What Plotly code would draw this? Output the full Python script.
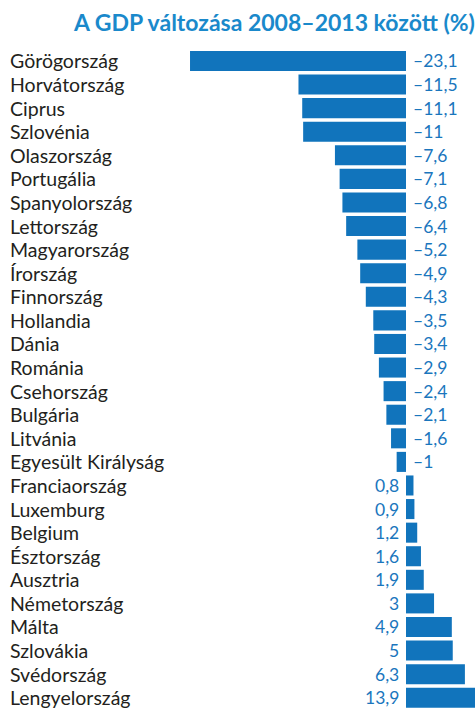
import plotly.graph_objects as go

countries = ["Görögország", "Horvátország", "Ciprus", "Szlovénia", "Olaszország",
             "Portugália", "Spanyolország", "Lettország", "Magyarország", "Írország",
             "Finnország", "Hollandia", "Dánia", "Románia", "Csehország", "Bulgária",
             "Litvánia", "Egyesült Királyság", "Franciaország", "Luxemburg", "Belgium",
             "Észtország", "Ausztria", "Németország", "Málta", "Szlovákia", "Svédország",
             "Lengyelország"]
values = [-23.1, -11.5, -11.1, -11, -7.6, -7.1, -6.8, -6.4, -5.2, -4.9, -4.3, -3.5,
          -3.4, -2.9, -2.4, -2.1, -1.6, -1, 0.8, 0.9, 1.2, 1.6, 1.9, 3, 4.9, 5, 6.3, 13.9]
title_text = "A GDP változása 2008–2013 között (%)"

BAR = "#1174bc"
VAL = "#1a76bd"
TITLE = "#1a89cb"
LAB = "#231f20"

def fmt(v):
    s = f"{v:g}".replace(".", ",")
    return s.replace("-", "–")

fig = go.Figure(go.Bar(
    x=values, y=countries, orientation="h",
    marker=dict(color=BAR, line=dict(width=0)),
    hoverinfo="skip",
))

W, H = 475, 710
zero_px = 406
scale = 9.35  # px per unit
xmin = -zero_px / scale
xmax = (W - zero_px) / scale

annotations = []
for c, v in zip(countries, values):
    annotations.append(dict(
        x=0, y=c, xref="x", yref="y", text=fmt(v), showarrow=False,
        xanchor="left" if v < 0 else "right",
        xshift=5 if v < 0 else -5,
        font=dict(family="Lato", size=17.5, color=VAL),
    ))
    annotations.append(dict(
        x=0, y=c, xref="paper", yref="y", text=c, showarrow=False,
        xanchor="left", xshift=8,
        font=dict(family="Lato", size=19.5, color=LAB),
    ))

annotations.append(dict(
    x=1, y=1, xref="paper", yref="paper", text="<b>" + title_text + "</b>",
    showarrow=False, xanchor="right", yanchor="bottom", yshift=10, xshift=2,
    font=dict(family="Lato", size=23, color=TITLE),
))

n = len(countries)
fig.update_layout(
    width=W, height=H,
    margin=dict(l=0, r=0, t=48, b=0),
    paper_bgcolor="white", plot_bgcolor="white",
    bargap=0.15,
    showlegend=False,
    xaxis=dict(range=[xmin, xmax], visible=False, fixedrange=True),
    yaxis=dict(range=[n - 1 + 0.52, -0.55], visible=False, fixedrange=True),
    annotations=annotations,
)

fig.write_html(
    "out.html",
    config={"displayModeBar": False},
    post_script="document.body.style.margin='0';document.body.style.overflow='hidden';",
)
